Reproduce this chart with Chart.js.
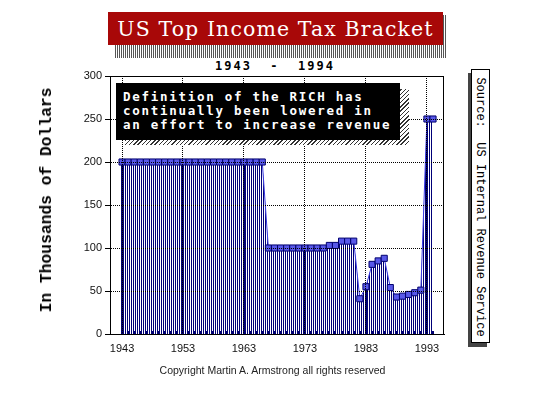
<!DOCTYPE html>
<html><head><meta charset="utf-8">
<script src="https://cdn.jsdelivr.net/npm/chart.js@4.4.0/dist/chart.umd.min.js"></script>
<style>
html,body{margin:0;padding:0;background:#fff;}
#wrap{position:relative;width:536px;height:399px;overflow:hidden;background:#fff;}
canvas{position:absolute;left:0;top:0;}
.abs{position:absolute;white-space:pre;}
#titleShadow{left:115px;top:15px;width:332px;height:43px;background:repeating-linear-gradient(90deg,#555 0px,#555 1px,#fff 1px,#fff 2px);}
#title{left:108px;top:12px;width:335px;height:33px;background:#a80808;color:#fff;font-family:"DejaVu Serif",serif;font-size:20.5px;line-height:35px;text-align:center;letter-spacing:1.1px;}
#sub{left:215px;top:60px;font-family:"DejaVu Sans Mono",monospace;font-weight:bold;font-size:12px;line-height:13px;letter-spacing:2px;color:#000;}
#noteShadow{left:125px;top:89px;width:284px;height:56px;background:repeating-linear-gradient(135deg,#333 0px,#333 1px,#fff 1px,#fff 3px);}
#note{left:116px;top:83px;width:277px;height:50px;padding:7px 0 0 7px;background:#000;color:#fff;font-family:"DejaVu Sans Mono",monospace;font-weight:bold;font-size:12.5px;line-height:14.2px;letter-spacing:1.72px;}
#ytitle{left:47px;top:200px;transform:translate(-50%,-50%) rotate(-90deg);font-family:"Liberation Mono",monospace;font-weight:bold;font-size:16.3px;line-height:18px;color:#000;}
#srcShadow{left:468px;top:73px;width:19px;height:274px;background:#444;}
#src{left:471px;top:69px;width:17px;height:272px;border:1px solid #000;background:#fff;}
#srcText{left:480px;top:207px;transform:translate(-50%,-50%) rotate(90deg);font-family:"Liberation Mono",monospace;font-size:12px;line-height:14px;color:#000;}
#copy{left:0;top:363px;width:545px;text-align:center;font-family:"Liberation Sans",Arial,sans-serif;font-size:10.5px;line-height:14px;color:#222;}
</style></head><body>
<div id="wrap">
<div class="abs" id="titleShadow"></div>
<div class="abs" id="title">US Top Income Tax Bracket</div>
<div class="abs" id="sub">1943  -  1994</div>
<canvas id="c" width="536" height="399"></canvas>
<div class="abs" id="noteShadow"></div>
<div class="abs" id="note">Definition of the RICH has
continually been lowered in
an effort to increase revenue</div>
<div class="abs" id="ytitle">In Thousands of Dollars</div>
<div class="abs" id="srcShadow"></div>
<div class="abs" id="src"></div>
<div class="abs" id="srcText">Source:  US Internal Revenue Service</div>
<div class="abs" id="copy">Copyright Martin A. Armstrong all rights reserved</div>
</div>
<script>
// ---- data (thousands of dollars, top bracket threshold) ----
const years = [1943,1944,1945,1946,1947,1948,1949,1950,1951,1952,1953,1954,1955,1956,1957,1958,1959,1960,1961,1962,1963,1964,1965,1966,
               1967,1968,1969,1970,1971,1972,1973,1974,1975,1976,1977,1978,1979,1980,1981,1982,1983,1984,1985,1986,1987,1988,1989,1990,1991,1992,1993,1994];
const values = [200,200,200,200,200,200,200,200,200,200,200,200,200,200,200,200,200,200,200,200,200,200,200,200,
                100,100,100,100,100,100,100,100,100,100,103,103,108,108,108,41,55,81,85,88,54,43,44,46,48,51,250,250];
const xTickYears = [1943,1953,1963,1973,1983,1993];
const yTicks = [0,50,100,150,200,250,300];

// vertical stripe pattern for the filled area
const pc = document.createElement('canvas');
pc.width = 2; pc.height = 1;
const pctx = pc.getContext('2d');
pctx.fillStyle = '#000078';
pctx.fillRect(1,0,1,1);
const stripe = pctx.createPattern(pc,'repeat');

const decadeLines = {
  id:'decadeLines',
  beforeDatasetsDraw(chart){
    const {ctx, scales:{x,y}} = chart;
    ctx.save();
    ctx.strokeStyle = '#000070';
    ctx.lineWidth = 2;
    const y0 = y.getPixelForValue(0);
    xTickYears.forEach(yr=>{
      const i = years.indexOf(yr);
      if(i<0) return;
      const px = Math.round(x.getPixelForValue(yr));
      ctx.beginPath(); ctx.moveTo(px,y0); ctx.lineTo(px,y.getPixelForValue(values[i])); ctx.stroke();
    });
    years.forEach(yr=>{
      const px = Math.round(x.getPixelForValue(yr));
      ctx.beginPath(); ctx.moveTo(px,y0); ctx.lineTo(px,y0-3); ctx.stroke();
    });
    ctx.restore();
  }
};
const frame = {
  id:'frame',
  afterDraw(chart){
    const {ctx, chartArea:a} = chart;
    ctx.save();
    ctx.strokeStyle = '#000'; ctx.lineWidth = 1;
    ctx.beginPath();
    ctx.moveTo(Math.round(a.left)-0.5, Math.round(a.top)+0.5);
    ctx.lineTo(Math.round(a.right)-0.5, Math.round(a.top)+0.5);
    ctx.lineTo(Math.round(a.right)-0.5, Math.round(a.bottom)+0.5);
    ctx.stroke();
    ctx.restore();
  }
};

new Chart(document.getElementById('c'), {
  type:'line',
  data:{
    datasets:[{
      data: years.map((yr,i)=>({x:yr, y:values[i]})),
      fill:'origin',
      backgroundColor: stripe,
      borderColor:'#3a3ae0',
      borderWidth:1,
      tension:0,
      pointStyle:'rect',
      pointRadius:4.3,
      pointBorderWidth:1,
      pointBackgroundColor:'#5858e8',
      pointBorderColor:'#00006e'
    }]
  },
  options:{
    responsive:false,
    animation:false,
    events:[],
    layout:{padding:{top:76,right:92,left:0,bottom:0}},
    plugins:{legend:{display:false},title:{display:false},tooltip:{enabled:false}},
    scales:{
      x:{
        type:'linear', min:1941.03, max:1995.8,
        afterBuildTicks:s=>{ s.ticks = xTickYears.map(v=>({value:v})); },
        afterFit:s=>{ s.height = 65; },
        grid:{color:'#000', lineWidth:1, drawTicks:false, z:1},
        border:{display:true, color:'#000', width:1, dash:[1,1], z:1},
        ticks:{font:{family:'Liberation Sans', size:11}, color:'#111', padding:8, maxRotation:0, autoSkip:false, callback:v=>String(v)}
      },
      y:{
        min:0, max:300,
        afterBuildTicks:s=>{ s.ticks = yTicks.map(v=>({value:v})); },
        afterFit:s=>{ s.width = 110; },
        grid:{color:'#000', lineWidth:1, drawTicks:true, tickLength:5, z:1},
        border:{display:true, color:'#000', width:1, dash:[1,1], z:1},
        ticks:{font:{family:'Liberation Sans', size:11}, color:'#111', padding:3, callback:v=>String(v)}
      }
    }
  },
  plugins:[decadeLines, frame]
});
</script>
</body></html>
